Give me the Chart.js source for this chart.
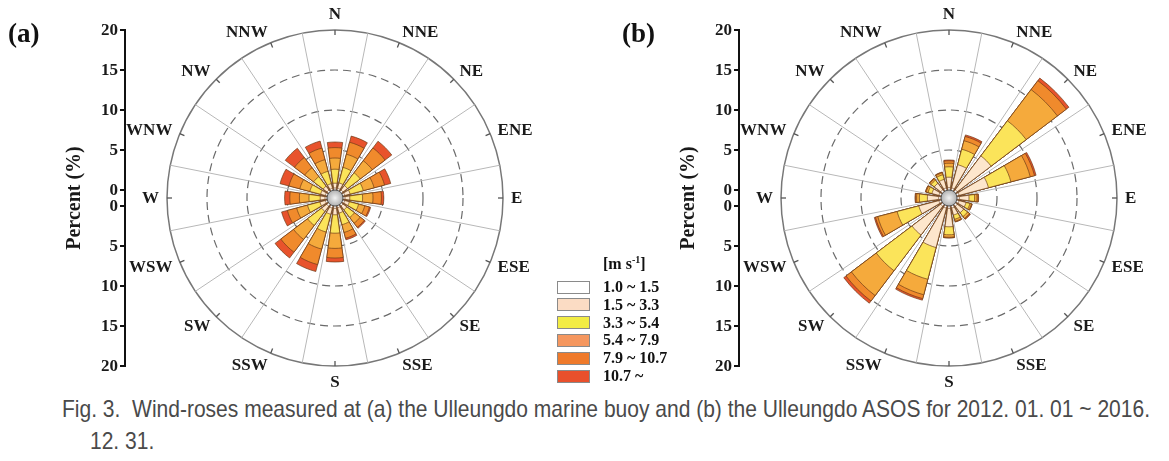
<!DOCTYPE html>
<html><head><meta charset="utf-8">
<script src="https://cdn.jsdelivr.net/npm/chart.js@4.4.1/dist/chart.umd.min.js"></script>
<style>
body{margin:0;background:#fff;width:1169px;height:461px;overflow:hidden;position:relative;font-family:"Liberation Serif",serif;}
canvas{position:absolute;top:0;}
#ca{left:0}
#cb{left:600px}
.panel{position:absolute;font-weight:bold;font-size:27px;color:#111;line-height:1;}
.lgtxt{position:absolute;font-family:"Liberation Serif",serif;font-weight:bold;font-size:16px;color:#111;line-height:1;white-space:nowrap;transform:translateY(-50%);}
.lgbox{position:absolute;width:31px;height:11px;border:1px solid #8a8a8a;}
.cap{position:absolute;font-family:"Liberation Sans",Arial,sans-serif;font-size:24px;color:#4a4a4a;white-space:nowrap;line-height:1;transform-origin:0 0;}
</style></head>
<body>
<canvas id="ca" width="560" height="395"></canvas>
<canvas id="cb" width="569" height="395"></canvas>
<div class="panel" style="left:8px;top:20px">(a)</div>
<div class="panel" style="left:622px;top:20px">(b)</div>
<div id="legend"></div>
<div id="cap1" class="cap" style="left:62px;top:397px">Fig. 3.&nbsp; Wind-roses measured at (a) the Ulleungdo marine buoy and (b) the Ulleungdo ASOS for 2012. 01. 01 ~ 2016.</div>
<div id="cap2" class="cap" style="left:90px;top:429px">12. 31.</div>
<script>
const directions = ['N','NNE','NE','ENE','E','ESE','SE','SSE','S','SSW','SW','WSW','W','WNW','NW','NNW'];
const speedBins = ['1.0 ~ 1.5','1.5 ~ 3.3','3.3 ~ 5.4','5.4 ~ 7.9','7.9 ~ 10.7','10.7 ~'];
const percentTicks = [0, 5, 10, 15, 20];

// (a) Ulleungdo marine buoy, percent per direction and speed bin
const buoyBin1 = [0.25,0.25,0.25,0.25,0.25,0.25,0.25,0.25,0.3,0.3,0.3,0.25,0.25,0.25,0.25,0.25];
const buoyBin2 = [0.6,0.7,0.7,0.7,0.6,0.6,0.6,0.7,0.8,0.8,0.8,0.7,0.6,0.6,0.6,0.6];
const buoyBin3 = [1.75,2.0,2.0,1.7,1.6,1.2,1.2,1.5,2.3,2.3,2.2,1.6,1.4,1.4,1.5,1.6];
const buoyBin4 = [1.4,1.7,1.9,1.4,1.3,0.8,0.9,1.0,1.9,2.2,2.2,1.4,1.2,1.3,1.4,1.5];
const buoyBin5 = [1.3,1.55,2.0,1.35,1.05,0.6,0.65,0.75,1.2,2.0,2.0,1.2,1.2,1.4,1.6,1.5];
const buoyBin6 = [0.7,0.8,1.05,0.8,0.3,0.15,0.15,0.2,0.5,0.9,0.9,0.75,0.65,1.15,1.45,0.9];

// (b) Ulleungdo ASOS
const asosBin1 = [0.3,0.3,0.3,0.3,0.3,0.3,0.3,0.3,0.3,0.3,0.3,0.3,0.3,0.3,0.3,0.3];
const asosBin2 = [1.3,3.0,5.3,3.8,1.2,0.9,1.0,0.9,2.3,5.1,4.5,2.6,1.4,0.9,1.0,1.1];
const asosBin3 = [1.3,2.0,5.5,2.9,0.7,0.5,0.6,0.55,1.0,4.1,5.6,2.8,1.0,0.5,0.5,0.6];
const asosBin4 = [0.45,1.1,4.9,2.5,0.3,0.2,0.3,0.25,0.3,2.0,3.9,2.5,0.35,0.25,0.2,0.25];
const asosBin5 = [0.3,0.55,1.4,0.55,0.15,0.08,0.1,0.08,0.08,0.5,0.85,0.3,0.15,0.08,0.08,0.08];
const asosBin6 = [0.1,0.2,0.4,0.2,0.05,0.02,0.05,0.02,0.02,0.2,0.35,0.15,0.05,0.02,0.02,0.02];

const barColors = ['#ffffff','#fde6cc','#fbe45a','#f5aa3c','#f08a2c','#e8532c'];
const legendColors = ['#ffffff','#fbdcc4','#f2ec44','#f5975f','#ef7a2b','#e9502c'];
const BAR = 15.75, GAP = 6.75;

// Chart.js paints the first dataset on top, so the innermost (cumulative) ring goes first.
function buildDatasets(bins) {
  const ds = [];
  for (let b = 0; b < bins.length; b++) {
    const data = [];
    directions.forEach((d, i) => {
      let cum = 0;
      for (let k = 0; k <= b; k++) cum += bins[k][i];
      data.push(cum, 0);
    });
    ds.push({
      label: speedBins[b],
      data,
      backgroundColor: (c) => (c.dataIndex % 2 ? 'rgba(0,0,0,0)' : barColors[b]),
      borderColor: 'rgba(105,58,22,0.85)',
      borderWidth: (c) => (c.dataIndex % 2 ? 0 : 0.8),
      angle: (c) => (c.dataIndex % 2 ? GAP : BAR)
    });
  }
  return ds;
}

const rosePlugin = {
  id: 'rose',
  beforeDatasetsDraw(chart) {
    const s = chart.scales.r, ctx = chart.ctx;
    const cx = s.xCenter, cy = s.yCenter;
    const r0 = s.getDistanceFromCenterForValue(0), r20 = s.getDistanceFromCenterForValue(20);
    ctx.save();
    ctx.strokeStyle = '#b8b8b8'; ctx.lineWidth = 1;
    for (let k = 0; k < 16; k++) {
      const a = (k * 22.5 + 11.25 - 90) * Math.PI / 180;
      ctx.beginPath();
      ctx.moveTo(cx + r0 * Math.cos(a), cy + r0 * Math.sin(a));
      ctx.lineTo(cx + r20 * Math.cos(a), cy + r20 * Math.sin(a));
      ctx.stroke();
    }
    ctx.strokeStyle = '#555'; ctx.lineWidth = 1.3;
    for (let k = 0; k < 16; k++) {
      const a = (k * 22.5 - 90) * Math.PI / 180;
      ctx.beginPath();
      ctx.moveTo(cx + (r20 - 5) * Math.cos(a), cy + (r20 - 5) * Math.sin(a));
      ctx.lineTo(cx + r20 * Math.cos(a), cy + r20 * Math.sin(a));
      ctx.stroke();
    }
    ctx.restore();
  },
  afterDatasetsDraw(chart) {
    const s = chart.scales.r, ctx = chart.ctx;
    const cx = s.xCenter, cy = s.yCenter;
    const r0 = s.getDistanceFromCenterForValue(0);
    ctx.save();
    const g = ctx.createRadialGradient(cx, cy, 0, cx, cy, r0);
    g.addColorStop(0, '#f2f2f2'); g.addColorStop(1, '#b0b0b0');
    ctx.fillStyle = g;
    ctx.beginPath(); ctx.arc(cx, cy, r0, 0, Math.PI * 2); ctx.fill();
    ctx.strokeStyle = '#555'; ctx.lineWidth = 1; ctx.stroke();
    ctx.restore();
  },
  afterDraw(chart) {
    const s = chart.scales.r, ctx = chart.ctx;
    const cx = s.xCenter, cy = s.yCenter;
    const r20 = s.getDistanceFromCenterForValue(20);
    ctx.save();
    ctx.fillStyle = '#1a1a1a';
    ctx.font = 'bold 17px "Liberation Serif"';
    ctx.textAlign = 'center'; ctx.textBaseline = 'middle';
    directions.forEach((d, k) => {
      const th = k * 22.5 * Math.PI / 180;
      const sn = Math.sin(th), cs = Math.cos(th);
      const ax = cx + (r20 + 8) * sn, ay = cy - (r20 + 8) * cs;
      const hw = ctx.measureText(d).width / 2;
      let x = ax, y = ay;
      if (sn > 0.1) x += hw; else if (sn < -0.1) x -= hw;
      if (cs > 0.99) y -= 8; else if (cs < -0.99) y += 8; else y -= cs * 4;
      ctx.fillText(d, x, y + 1);
    });
    // split percent axis
    const axx = cx - 210;
    ctx.strokeStyle = '#111'; ctx.lineWidth = 2;
    ctx.beginPath(); ctx.moveTo(axx, cy - r20 - 1); ctx.lineTo(axx, cy + r20 + 1); ctx.stroke();
    ctx.font = 'bold 17px "Liberation Serif"';
    ctx.textAlign = 'right';
    percentTicks.forEach(v => {
      const d = s.getDistanceFromCenterForValue(v);
      [-1, 1].forEach(sg => {
        const y = cy + sg * d;
        ctx.beginPath(); ctx.moveTo(axx - 5, y); ctx.lineTo(axx, y); ctx.stroke();
        ctx.fillText(String(v), axx - 7, y + 1);
      });
    });
    ctx.translate(cx - 260, cy);
    ctx.rotate(-Math.PI / 2);
    ctx.textAlign = 'center';
    ctx.font = 'bold 20px "Liberation Serif"';
    ctx.fillText('Percent (%)', 0, 0);
    ctx.restore();
  }
};

function makeRose(id, bins, padLeft, padRight) {
  return new Chart(document.getElementById(id), {
    type: 'polarArea',
    data: { labels: directions.flatMap(d => [d, '']), datasets: buildDatasets(bins) },
    options: {
      responsive: false,
      animation: false,
      events: [],
      layout: { padding: { left: padLeft, right: padRight, top: 30, bottom: 29 } },
      plugins: { legend: { display: false }, tooltip: { enabled: false } },
      scales: {
        r: {
          min: -1, max: 20,
          startAngle: -BAR / 2,
          ticks: { display: false, stepSize: 5 },
          angleLines: { display: false },
          pointLabels: { display: false },
          grid: {
            circular: true,
            color: (c) => (c.tick && c.tick.value === 20 ? '#777' : (c.tick && c.tick.value > 0 ? '#6a6a6a' : 'rgba(0,0,0,0)')),
            lineWidth: (c) => (c.tick && c.tick.value === 20 ? 1.5 : 1.2)
          },
          border: { dash: (c) => (c.tick && c.tick.value === 20 ? [] : [8, 5]) }
        }
      }
    },
    plugins: [rosePlugin]
  });
}

makeRose('ca', [buoyBin1, buoyBin2, buoyBin3, buoyBin4, buoyBin5, buoyBin6], 167, 57);
makeRose('cb', [asosBin1, asosBin2, asosBin3, asosBin4, asosBin5, asosBin6], 181, 52);

// legend
const lg = document.getElementById('legend');
let html = '<div class="lgtxt" style="left:603px;top:263px">[m s<sup style="font-size:10px;vertical-align:6px">-1</sup>]</div>';
speedBins.forEach((t, i) => {
  const y = 287 + 17.8 * i;
  html += `<div class="lgbox" style="left:557px;top:${(y - 6.5).toFixed(1)}px;background:${legendColors[i]}"></div>`;
  html += `<div class="lgtxt" style="left:603px;top:${y.toFixed(1)}px">${t}</div>`;
});
lg.innerHTML = html;

// caption width fit
const c1 = document.getElementById('cap1');
const w1 = c1.getBoundingClientRect().width;
const sc = 1088 / w1;
c1.style.transform = `scaleX(${sc})`;
document.getElementById('cap2').style.transform = `scaleX(${sc})`;
</script>
</body></html>
